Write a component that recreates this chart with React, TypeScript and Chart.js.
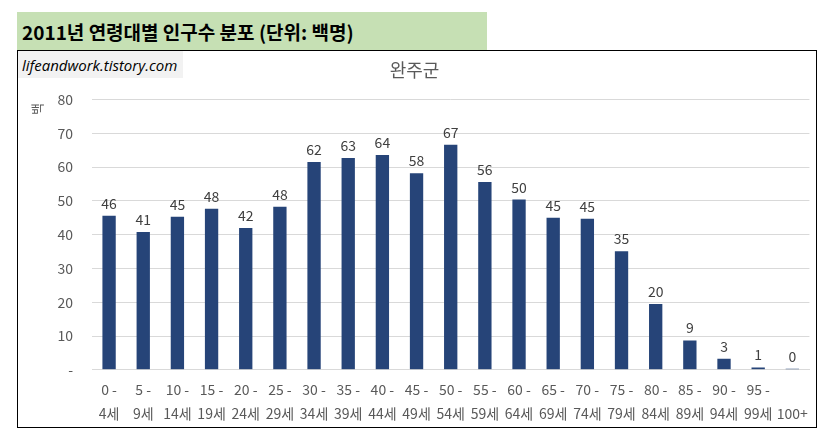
import { useEffect, useRef } from "react";
import { Chart, registerables } from "chart.js";

Chart.register(...registerables);

// 연령대 (x축 두 줄 라벨)
const ageGroups: string[][] = [
  ["0 -", "4세"],
  ["5 -", "9세"],
  ["10 -", "14세"],
  ["15 -", "19세"],
  ["20 -", "24세"],
  ["25 -", "29세"],
  ["30 -", "34세"],
  ["35 -", "39세"],
  ["40 -", "44세"],
  ["45 -", "49세"],
  ["50 -", "54세"],
  ["55 -", "59세"],
  ["60 -", "64세"],
  ["65 -", "69세"],
  ["70 -", "74세"],
  ["75 -", "79세"],
  ["80 -", "84세"],
  ["85 -", "89세"],
  ["90 -", "94세"],
  ["95 -", "99세"],
  ["", "100+"],
];

// 인구수 (단위: 백명)
const population = [
  45.6, 40.8, 45.3, 47.7, 42.0, 48.3, 61.5, 62.7, 63.6, 58.2, 66.6, 55.6,
  50.4, 45.0, 44.7, 35.1, 19.5, 8.7, 3.3, 0.7, 0.3,
];

const yMin = 0;
const yMax = 80;
const yStep = 10;

const FONT = "'Noto Sans CJK KR', 'Noto Sans', sans-serif";

// bar value labels
const valueLabels = {
  id: "valueLabels",
  afterDatasetsDraw(chart: Chart) {
    const { ctx } = chart;
    const meta = chart.getDatasetMeta(0);
    ctx.save();
    ctx.font = `14px ${FONT}`;
    ctx.fillStyle = "#404040";
    ctx.textAlign = "center";
    ctx.textBaseline = "alphabetic";
    meta.data.forEach((bar: any, i: number) => {
      ctx.fillText(String(Math.round(population[i])), bar.x, bar.y - 7);
    });
    ctx.restore();
  },
};

// y axis title, rotated and cut at the top like the original
const yTitle = {
  id: "yTitle",
  afterDraw(chart: Chart) {
    const { ctx } = chart;
    ctx.save();
    ctx.beginPath();
    ctx.rect(8, 52, 24, 20);
    ctx.clip();
    ctx.translate(19, 64);
    ctx.rotate(-Math.PI / 2);
    ctx.font = `13px ${FONT}`;
    ctx.fillStyle = "#595959";
    ctx.textAlign = "left";
    ctx.textBaseline = "middle";
    ctx.fillText("백명", 0, 0);
    ctx.restore();
  },
};

function PopulationChart() {
  const chartRef = useRef<HTMLCanvasElement>(null);
  const chartInstance = useRef<Chart | null>(null);

  useEffect(() => {
    if (!chartRef.current) return;
    if (chartInstance.current) chartInstance.current.destroy();
    const ctx = chartRef.current.getContext("2d");
    if (!ctx) return;

    chartInstance.current = new Chart(ctx, {
      type: "bar",
      data: {
        labels: ageGroups,
        datasets: [
          {
            label: "인구수",
            data: population,
            backgroundColor: "#264478",
            categoryPercentage: 1,
            barPercentage: 0.39,
          },
        ],
      },
      options: {
        responsive: true,
        maintainAspectRatio: false,
        animation: false,
        layout: { padding: { left: 0, right: 5, top: 0, bottom: -7 } },
        plugins: {
          legend: { display: false },
          tooltip: { enabled: false },
          title: {
            display: true,
            text: "완주군",
            color: "#595959",
            font: { family: FONT, size: 18, weight: "normal", lineHeight: 1.2 },
            padding: { top: 8, bottom: 19 },
          },
        },
        scales: {
          x: {
            grid: { display: false, drawTicks: false },
            border: { color: "#D9D9D9" },
            ticks: {
              color: "#595959",
              autoSkip: false,
              maxRotation: 0,
              padding: 8,
              font: { family: FONT, size: 14, lineHeight: 1.72 },
            },
          },
          y: {
            min: yMin,
            max: yMax,
            grid: { color: "#D9D9D9", drawTicks: false },
            border: { display: false },
            afterFit: (scale: any) => {
              scale.width = 74;
            },
            ticks: {
              stepSize: yStep,
              color: "#595959",
              padding: 19,
              font: { family: FONT, size: 14 },
              callback: (v: any) => (Number(v) === 0 ? "-" : String(v)),
            },
          },
        },
      },
      plugins: [valueLabels, yTitle],
    });

    return () => {
      if (chartInstance.current) {
        chartInstance.current.destroy();
        chartInstance.current = null;
      }
    };
  }, []);

  return (
    <div style={{ width: 798, height: 376 }}>
      <canvas ref={chartRef}></canvas>
    </div>
  );
}

export default function App() {
  return (
    <div style={{ position: "relative", width: 819, height: 428, fontFamily: FONT }}>
      <div
        style={{
          position: "absolute",
          left: 9,
          top: 4,
          width: 470,
          height: 38,
          background: "#C6E0B4",
          display: "flex",
          alignItems: "center",
          paddingLeft: 5,
          boxSizing: "border-box",
          fontWeight: "bold",
          fontSize: 19,
          color: "#000",
          whiteSpace: "nowrap",
        }}
      >
        2011년 연령대별 인구수 분포 (단위: 백명)
      </div>
      <div
        style={{
          position: "absolute",
          left: 9,
          top: 42,
          width: 800,
          height: 378,
          border: "1px solid #000",
          boxSizing: "border-box",
          background: "#fff",
          overflow: "hidden",
        }}
      >
        <PopulationChart />
        <div
          style={{
            position: "absolute",
            left: 0,
            top: 0,
            width: 165,
            height: 27,
            background: "#F2F2F2",
            display: "flex",
            alignItems: "center",
            paddingLeft: 4,
            boxSizing: "border-box",
            fontStyle: "italic",
            fontSize: 15,
            fontFamily: "'Open Sans', 'DejaVu Sans', sans-serif",
            color: "#000",
            whiteSpace: "nowrap",
          }}
        >
          lifeandwork.tistory.com
        </div>
      </div>
    </div>
  );
}
